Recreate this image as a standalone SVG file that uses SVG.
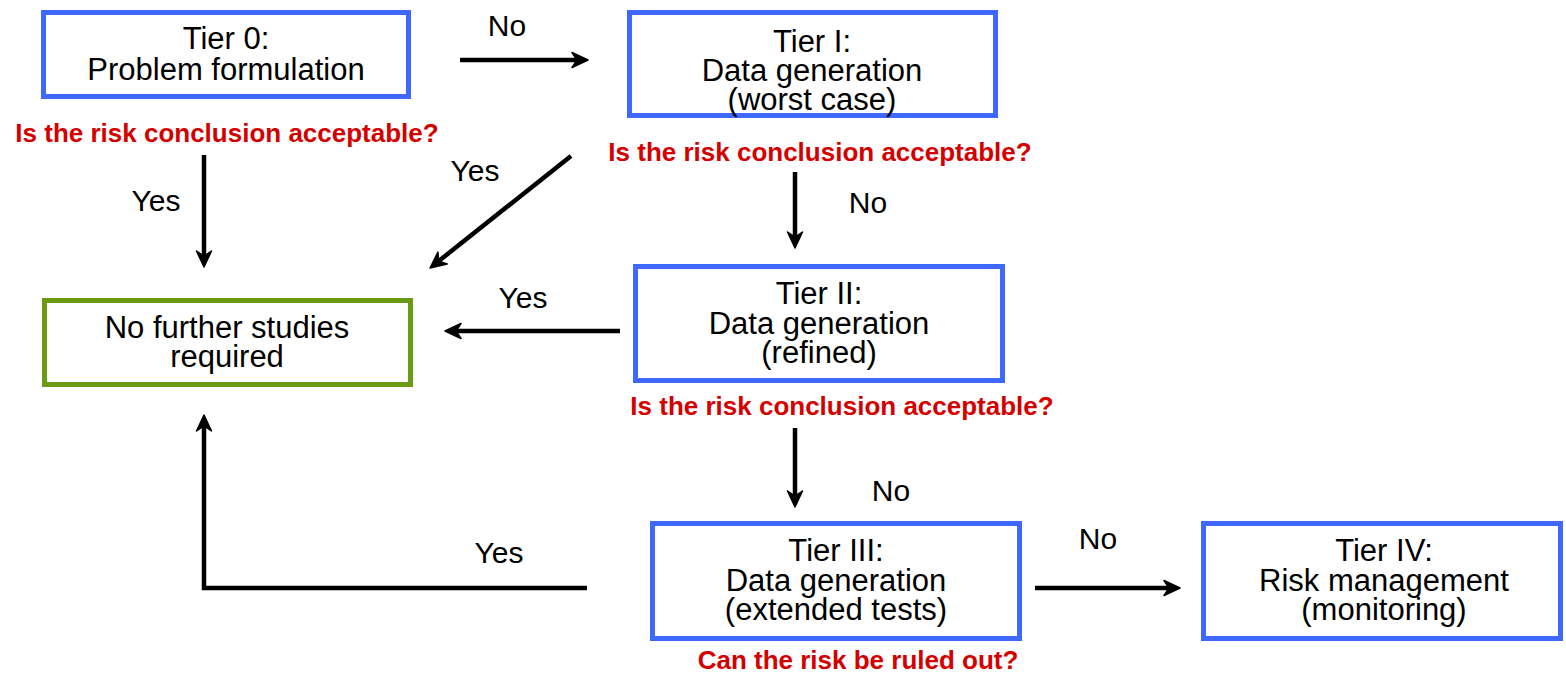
<svg xmlns="http://www.w3.org/2000/svg" width="1566" height="674" viewBox="0 0 1566 674">
<style>
.box{fill:#fff;stroke:#3f68ff;stroke-width:5}
.green{fill:#fff;stroke:#6b9b12;stroke-width:5}
.t{font-family:"Liberation Sans",Arial,sans-serif;font-size:31px;fill:#000;text-anchor:middle}
.q{font-family:"Liberation Sans",Arial,sans-serif;font-size:26px;font-weight:bold;fill:#d40000;text-anchor:middle}
.lbl{font-family:"Liberation Sans",Arial,sans-serif;font-size:30px;fill:#000;text-anchor:middle}
.c{fill:none;stroke:#000;stroke-width:4.5;marker-end:url(#ah)}
</style>
<defs>
<marker id="ah" viewBox="0 0 18 18" refX="9" refY="9" markerWidth="18" markerHeight="18" markerUnits="userSpaceOnUse" orient="auto">
<path d="M1,1.5 L17,9 L1,16.5 L6,9 Z" fill="#000" stroke="#000" stroke-width="1.5" stroke-linejoin="round"/>
</marker>
</defs>
<rect width="1566" height="674" fill="#fff"/>

<g id="tier0">
<rect class="box" x="43.5" y="12.5" width="365" height="84"/>
<text class="t" x="226" y="49">Tier 0:</text>
<text class="t" x="226" y="80">Problem formulation</text>
<text class="q" x="227" y="142">Is the risk conclusion acceptable?</text>
</g>

<g id="tier1">
<rect class="box" x="629.5" y="12.5" width="366" height="103"/>
<text class="t" x="812" y="52">Tier I:</text>
<text class="t" x="812" y="81">Data generation</text>
<text class="t" x="812" y="110">(worst case)</text>
<text class="q" x="820" y="161">Is the risk conclusion acceptable?</text>
</g>

<g id="nofurther">
<rect class="green" x="44.5" y="300.5" width="366" height="84"/>
<text class="t" x="227" y="338">No further studies</text>
<text class="t" x="227" y="367">required</text>
</g>

<g id="tier2">
<rect class="box" x="635.5" y="266.5" width="367" height="114"/>
<text class="t" x="819" y="304">Tier II:</text>
<text class="t" x="819" y="334">Data generation</text>
<text class="t" x="819" y="363">(refined)</text>
<text class="q" x="842" y="415">Is the risk conclusion acceptable?</text>
</g>

<g id="tier3">
<rect class="box" x="652.5" y="523.5" width="367" height="115"/>
<text class="t" x="836" y="561">Tier III:</text>
<text class="t" x="836" y="591">Data generation</text>
<text class="t" x="836" y="620">(extended tests)</text>
<text class="q" x="858" y="669">Can the risk be ruled out?</text>
</g>

<g id="tier4">
<rect class="box" x="1203.5" y="523.5" width="357" height="115"/>
<text class="t" x="1384" y="561">Tier IV:</text>
<text class="t" x="1384" y="591">Risk management</text>
<text class="t" x="1384" y="620">(monitoring)</text>
</g>

<g id="connectors">
<line class="c" x1="460" y1="60" x2="580" y2="60"/>
<text class="lbl" x="507" y="36">No</text>
<line class="c" x1="204" y1="155" x2="204" y2="259"/>
<text class="lbl" x="156" y="211">Yes</text>
<line class="c" x1="571" y1="156" x2="436.3" y2="263"/>
<text class="lbl" x="475" y="181">Yes</text>
<line class="c" x1="795" y1="172" x2="795" y2="240"/>
<text class="lbl" x="868" y="213">No</text>
<line class="c" x1="620" y1="331" x2="453" y2="331"/>
<text class="lbl" x="523" y="308">Yes</text>
<line class="c" x1="795" y1="428" x2="795" y2="499"/>
<text class="lbl" x="891" y="501">No</text>
<line class="c" x1="1035" y1="588" x2="1172" y2="588"/>
<text class="lbl" x="1098" y="549">No</text>
<path class="c" d="M587,588 H204 V423"/>
<text class="lbl" x="499" y="563">Yes</text>
</g>
</svg>
